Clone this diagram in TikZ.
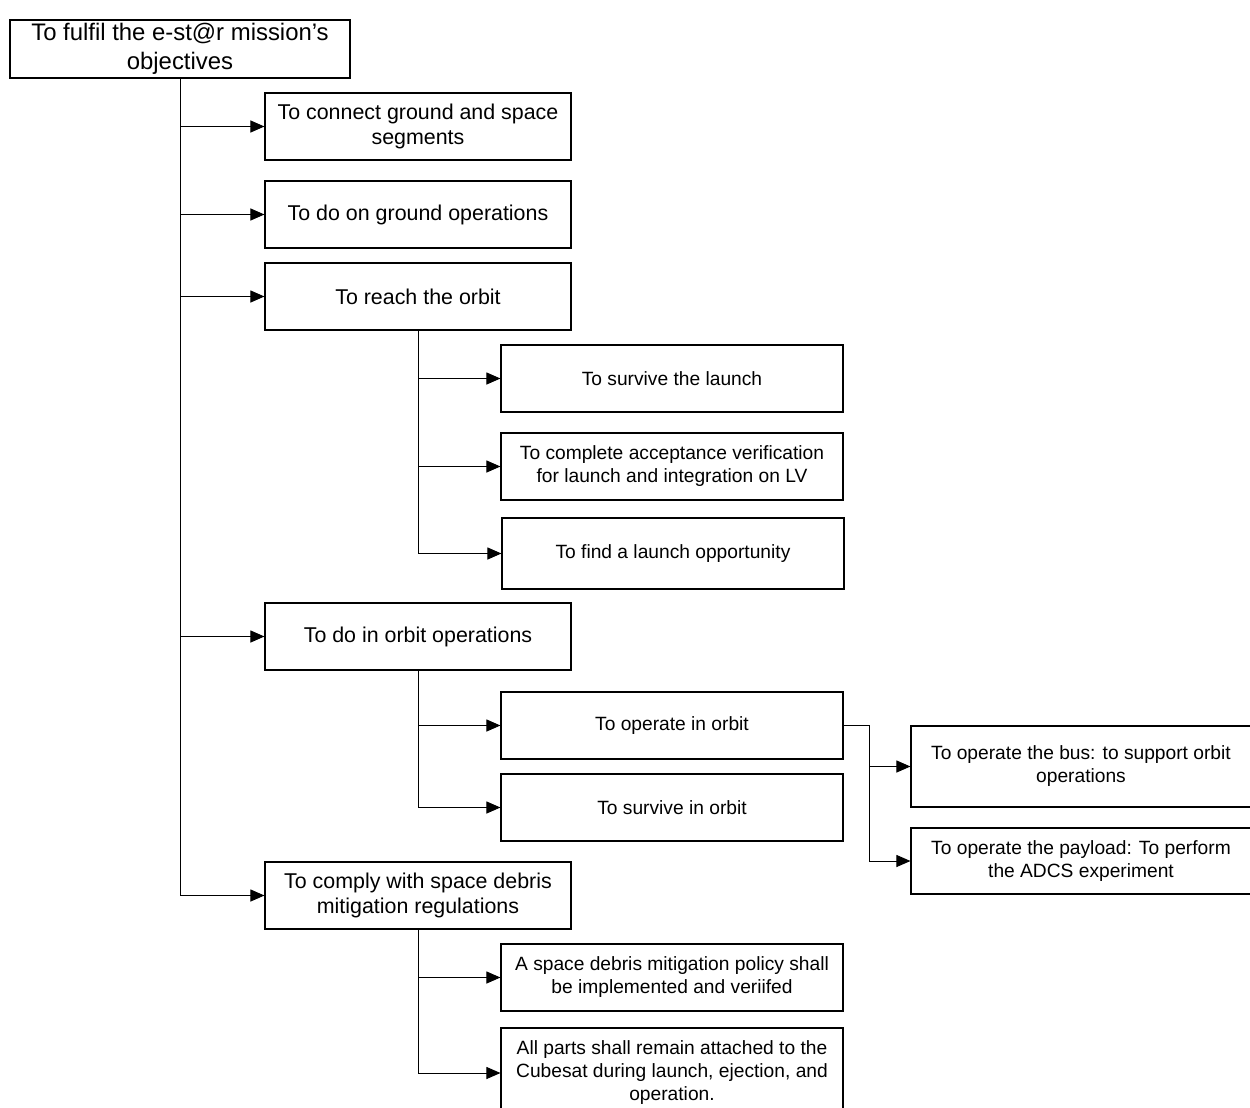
\documentclass[tikz,border=0pt]{standalone}
\usepackage{fontspec}
\setmainfont{Liberation Sans}
\usetikzlibrary{arrows.meta}
\begin{document}
\begin{tikzpicture}[x=1pt,y=-1pt,
  box/.style={draw=black, line width=1.1pt, align=center, inner sep=0pt, anchor=center, fill=white},
  rootbox/.style={box, minimum width=340pt, minimum height=58pt, font=\fontsize{23.9}{28.7}\selectfont},
  lvone/.style={box, minimum width=306pt, minimum height=67pt, font=\fontsize{21.4}{25.8}\selectfont},
  lvtwo/.style={box, minimum width=342pt, minimum height=67pt, font=\fontsize{19.2}{23}\selectfont},
  link/.style={line width=1pt, -{Triangle[length=14pt,width=12pt]}},
  trunk/.style={line width=1pt}]
\useasboundingbox (0,0) rectangle (1250,1108);
\clip (0,0) rectangle (1250,1108);

% top-level objective
\node[rootbox] (root) at (180,49) {To fulfil the e-st@r mission’s\\objectives};

% first-level objectives
\node[lvone] (connect) at (418,126.5) {To connect ground and space\\segments};
\node[lvone] (ground)  at (418,214.5) {To do on ground operations};
\node[lvone] (reach)   at (418,296.5) {To reach the orbit};
\node[lvone] (inorbit) at (418,636.5) {To do in orbit operations};
\node[lvone] (comply)  at (418,895.5) {To comply with space debris\\mitigation regulations};

% reaching the orbit
\node[lvtwo] (survlaunch) at (672,378.5) {To survive the launch};
\node[lvtwo] (accept)     at (672,466.5) {To complete acceptance verification\\for launch and integration on LV};
\node[lvtwo, minimum height=71pt] (findlv) at (673,553.5) {To find a launch opportunity};

% in-orbit operations
\node[lvtwo] (operate)   at (672,725.5) {To operate in orbit};
\node[lvtwo] (survorbit) at (672,807.5) {To survive in orbit};
\node[lvtwo, minimum width=340pt, minimum height=81pt] (bus) at (1081,766.5) {To operate the bus: to support orbit\\operations};
\node[lvtwo, minimum width=340pt, minimum height=66pt] (payload) at (1081,861) {To operate the payload: To perform\\the ADCS experiment};

% debris mitigation
\node[lvtwo] (policy)   at (672,977.5) {A space debris mitigation policy shall\\be implemented and veriifed};
\node[lvtwo, minimum height=90pt] (attached) at (672,1073) {All parts shall remain attached to the\\Cubesat during launch, ejection, and\\operation.};

% main trunk and its branches
\draw[trunk] (root.south) -- (root.south |- comply.west);
\foreach \n in {connect,ground,reach,inorbit,comply}
  \draw[link] (root.south |- \n.west) -- (\n.west);

% sub-trunks
\draw[trunk] (reach.south) -- (reach.south |- findlv.west);
\foreach \n in {survlaunch,accept,findlv}
  \draw[link] (reach.south |- \n.west) -- (\n.west);

\draw[trunk] (inorbit.south) -- (inorbit.south |- survorbit.west);
\foreach \n in {operate,survorbit}
  \draw[link] (inorbit.south |- \n.west) -- (\n.west);

\draw[trunk] (comply.south) -- (comply.south |- attached.west);
\foreach \n in {policy,attached}
  \draw[link] (comply.south |- \n.west) -- (\n.west);

% split from operating in orbit
\coordinate (split) at (869,725.5);
\draw[trunk] (operate.east) -- (split) -- (split |- payload.west);
\foreach \n in {bus,payload}
  \draw[link] (split |- \n.west) -- (\n.west);
\end{tikzpicture}
\end{document}
